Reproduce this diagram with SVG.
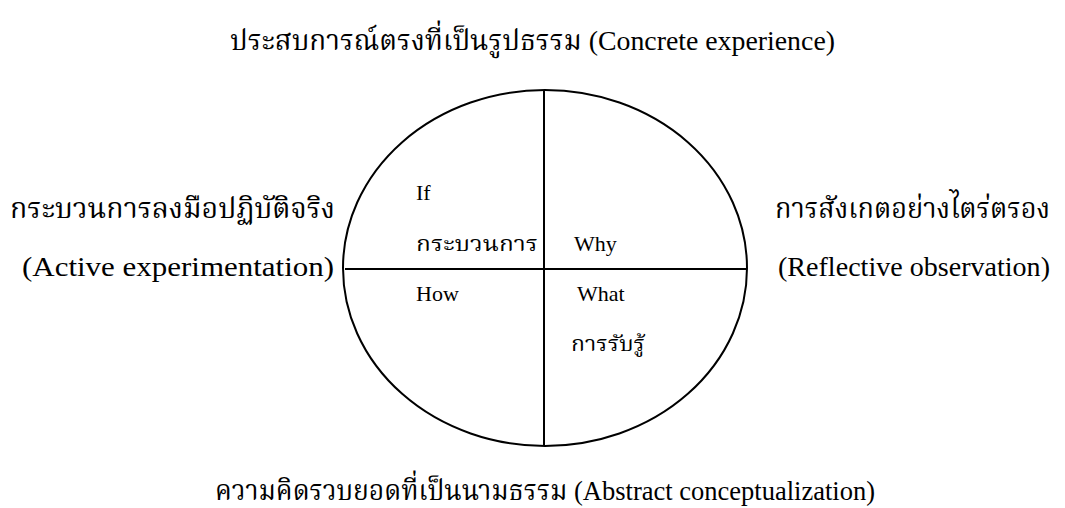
<svg xmlns="http://www.w3.org/2000/svg" width="1065" height="508" viewBox="0 0 1065 508">
<style>
text{font-family:"Liberation Serif","Noto Serif Thai","Noto Sans",serif;fill:#000}
.big{font-size:28px}
.small{font-size:22px}
.ln{stroke:#000;stroke-width:2;fill:none}
</style>
<rect width="1065" height="508" fill="#fff"/>
<g id="connectors">
<ellipse class="ln" cx="545" cy="268" rx="202" ry="178"/>
<line class="ln" x1="544" y1="90" x2="544" y2="446"/>
<line class="ln" x1="345" y1="269" x2="747" y2="269"/>
</g>
<g id="top"><text class="big" x="230" y="50" textLength="605" lengthAdjust="spacingAndGlyphs">ประสบการณ์ตรงที่เป็นรูปธรรม  (Concrete experience)</text></g>
<g id="left"><text class="big" x="10" y="218" textLength="325" lengthAdjust="spacingAndGlyphs">กระบวนการลงมือปฏิบัติจริง</text>
<text class="big" x="22" y="276" textLength="312" lengthAdjust="spacingAndGlyphs">(Active experimentation)</text></g>
<g id="right"><text class="big" x="775" y="218" textLength="275" lengthAdjust="spacingAndGlyphs">การสังเกตอย่างไตร่ตรอง</text>
<text class="big" x="778" y="276" textLength="272" lengthAdjust="spacingAndGlyphs">(Reflective  observation)</text></g>
<g id="bottom"><text class="big" x="215" y="500" textLength="660" lengthAdjust="spacingAndGlyphs">ความคิดรวบยอดที่เป็นนามธรรม  (Abstract conceptualization)</text></g>
<g id="q1"><text class="small" x="416" y="200">If</text><text class="small" x="416" y="251" textLength="122" lengthAdjust="spacingAndGlyphs">กระบวนการ</text></g>
<g id="q2"><text class="small" x="574" y="251">Why</text></g>
<g id="q3"><text class="small" x="416" y="301">How</text></g>
<g id="q4"><text class="small" x="577" y="301">What</text><text class="small" x="571" y="351" textLength="74" lengthAdjust="spacingAndGlyphs">การรับรู้</text></g>
</svg>
